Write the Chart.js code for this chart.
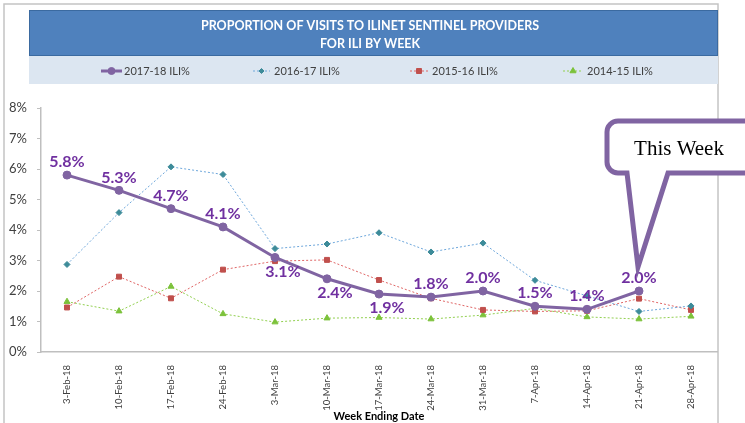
<!DOCTYPE html>
<html>
<head>
<meta charset="utf-8">
<script src="https://cdn.jsdelivr.net/npm/chart.js@4.4.1/dist/chart.umd.min.js"></script>
<style>
  html, body { margin: 0; padding: 0; background: #fff; }
  #wrap { width: 745px; height: 423px; position: relative; }
</style>
</head>
<body>
<div id="wrap"><canvas id="iliChart" width="745" height="423"></canvas></div>
<script>
const weeks = ['3-Feb-18', '10-Feb-18', '17-Feb-18', '24-Feb-18', '3-Mar-18', '10-Mar-18',
  '17-Mar-18', '24-Mar-18', '31-Mar-18', '7-Apr-18', '14-Apr-18', '21-Apr-18', '28-Apr-18'];
const ili1718 = [5.8, 5.3, 4.7, 4.1, 3.1, 2.4, 1.9, 1.8, 2.0, 1.5, 1.4, 2.0, null];
const ili1617 = [2.87, 4.57, 6.07, 5.82, 3.39, 3.54, 3.91, 3.28, 3.57, 2.35, 1.84, 1.33, 1.51];
const ili1516 = [1.46, 2.47, 1.76, 2.70, 2.98, 3.02, 2.36, 1.76, 1.38, 1.33, 1.35, 1.75, 1.38];
const ili1415 = [1.65, 1.34, 2.15, 1.25, 0.98, 1.11, 1.13, 1.08, 1.21, 1.43, 1.15, 1.08, 1.17];
// where each 2017-18 value label sits relative to its point
const labelSide = ['above', 'above', 'above', 'above', 'below', 'below', 'below',
  'above', 'above', 'above', 'above', 'above'];
const yTicks = [0, 1, 2, 3, 4, 5, 6, 7, 8];
const thisWeekIndex = 11;

const FONT = 'Lato, "Open Sans", sans-serif';

// legend marker sizes are a bit smaller than the ones on the lines
const legendRadius = [3.5, 2.5, 3.5, 3.5];

const frameAndHeader = {
  id: 'frameAndHeader',
  beforeDraw(chart) {
    const c = chart.ctx;
    c.save();
    c.fillStyle = '#fff';
    c.fillRect(0, 0, chart.width, chart.height);

    // outer frame
    c.strokeStyle = '#c4c4c4';
    c.lineWidth = 1.5;
    c.strokeRect(4, 4, 714, 430);

    // title box
    c.fillStyle = '#4f81bd';
    c.fillRect(29, 10, 689, 46);
    c.strokeStyle = '#3b6aa0';
    c.lineWidth = 1;
    c.strokeRect(29.5, 10.5, 688, 45);
    c.fillStyle = '#fff';
    c.font = 'bold 12.5px ' + FONT;
    c.textAlign = 'center';
    c.textBaseline = 'middle';
    c.fillText('PROPORTION OF VISITS TO ILINET SENTINEL PROVIDERS', 370, 26);
    c.fillText('FOR ILI BY WEEK', 370, 44);

    // legend band
    c.fillStyle = '#dce6f1';
    c.fillRect(29, 56, 689, 28);

    const ds = chart.data.datasets;
    const spots = [
      { x0: 101, x1: 122, tx: 124 },
      { x0: 253, x1: 270, tx: 274 },
      { x0: 410, x1: 428, tx: 432 },
      { x0: 563, x1: 583, tx: 587 }
    ];
    const ly = 71;
    spots.forEach((s, i) => {
      const d = ds[i];
      c.save();
      c.strokeStyle = d.borderColor;
      c.lineWidth = d.borderWidth;
      c.setLineDash(d.borderDash || []);
      c.beginPath();
      c.moveTo(s.x0, ly);
      c.lineTo(s.x1, ly);
      c.stroke();
      c.restore();

      c.save();
      c.fillStyle = d.pointBackgroundColor;
      c.strokeStyle = d.pointBorderColor;
      c.lineWidth = 1;
      Chart.helpers.drawPoint(c, {
        pointStyle: d.pointStyle,
        radius: legendRadius[i],
        rotation: 0,
        borderWidth: 1
      }, (s.x0 + s.x1) / 2, ly);
      c.restore();

      c.fillStyle = '#404040';
      c.font = '11px ' + FONT;
      c.textAlign = 'left';
      c.textBaseline = 'middle';
      c.fillText(d.label, s.tx, ly + 0.5);
    });
    c.restore();
  }
};

const valueLabels = {
  id: 'valueLabels',
  afterDatasetsDraw(chart) {
    const c = chart.ctx;
    const meta = chart.getDatasetMeta(0);
    c.save();
    c.font = 'bold 16px ' + FONT;
    c.fillStyle = '#7030a0';
    c.textAlign = 'center';
    c.textBaseline = 'middle';
    meta.data.forEach((pt, i) => {
      const v = ili1718[i];
      if (v == null) return;
      const below = labelSide[i] === 'below';
      c.fillText(v.toFixed(1) + '%', pt.x + (below ? 8 : 0), pt.y + (below ? 14 : -13));
    });
    c.restore();
  }
};

const thisWeekCallout = {
  id: 'thisWeekCallout',
  afterDraw(chart) {
    const pt = chart.getDatasetMeta(0).data[thisWeekIndex];
    const c = chart.ctx;
    const tipX = pt.x - 1, tipY = pt.y - 24;
    const left = 607, top = 121, right = 770, bottom = 173, r = 11;
    const baseL = 627, baseR = 668;
    c.save();
    c.beginPath();
    c.moveTo(left + r, top);
    c.lineTo(right, top);
    c.lineTo(right, bottom);
    c.lineTo(baseR, bottom);
    c.lineTo(tipX, tipY);
    c.lineTo(baseL, bottom);
    c.lineTo(left + r, bottom);
    c.arcTo(left, bottom, left, bottom - r, r);
    c.lineTo(left, top + r);
    c.arcTo(left, top, left + r, top, r);
    c.closePath();
    c.fillStyle = '#fff';
    c.fill();
    c.lineWidth = 5;
    c.lineJoin = 'miter';
    c.strokeStyle = '#8064a2';
    c.stroke();
    c.fillStyle = '#000';
    c.font = '21px "Liberation Serif", "DejaVu Serif", serif';
    c.textAlign = 'center';
    c.textBaseline = 'middle';
    c.fillText('This Week', 679, 149);
    c.restore();
  }
};

new Chart(document.getElementById('iliChart'), {
  type: 'line',
  data: {
    labels: weeks,
    datasets: [
      {
        label: '2017-18 ILI%',
        data: ili1718,
        borderColor: '#8064a2',
        borderWidth: 3,
        pointStyle: 'circle',
        pointRadius: 4,
        pointBorderWidth: 1,
        pointBackgroundColor: '#8064a2',
        pointBorderColor: '#8064a2',
        order: 0
      },
      {
        label: '2016-17 ILI%',
        data: ili1617,
        borderColor: '#6fa8dc',
        borderWidth: 1,
        borderDash: [2, 2],
        pointStyle: 'rectRot',
        pointRadius: 3,
        pointBorderWidth: 1,
        pointBackgroundColor: '#3d8b99',
        pointBorderColor: '#3d8b99',
        order: 1
      },
      {
        label: '2015-16 ILI%',
        data: ili1516,
        borderColor: '#e06666',
        borderWidth: 1,
        borderDash: [2, 2],
        pointStyle: 'rect',
        pointRadius: 3.5,
        pointBorderWidth: 1,
        pointBackgroundColor: '#c0504d',
        pointBorderColor: '#c0504d',
        order: 2
      },
      {
        label: '2014-15 ILI%',
        data: ili1415,
        borderColor: '#92d050',
        borderWidth: 1,
        borderDash: [2, 2],
        pointStyle: 'triangle',
        pointRadius: 3.5,
        pointBorderWidth: 1,
        pointBackgroundColor: '#7cc23b',
        pointBorderColor: '#7cc23b',
        order: 3
      }
    ]
  },
  options: {
    responsive: false,
    animation: false,
    tension: 0,
    layout: { padding: { top: 108, right: 28, left: 0, bottom: 0 } },
    plugins: {
      legend: { display: false },
      title: { display: false },
      tooltip: { enabled: false }
    },
    scales: {
      x: {
        offset: true,
        afterFit: (s) => { s.height = 71; },
        grid: { display: false },
        border: { display: true, color: '#bfbfbf', width: 1.5 },
        ticks: {
          minRotation: 90,
          maxRotation: 90,
          autoSkip: false,
          padding: 5,
          color: '#404040',
          font: { family: FONT, size: 9.5 }
        },
        title: {
          display: true,
          text: 'Week Ending Date',
          color: '#000',
          font: { family: FONT, size: 11, weight: 'bold' },
          padding: { top: 0, bottom: 0 }
        }
      },
      y: {
        min: 0,
        max: 8,
        afterFit: (s) => { s.width = 41; },
        afterBuildTicks: (s) => { s.ticks = yTicks.map(v => ({ value: v })); },
        grid: { drawOnChartArea: false, drawTicks: true, tickLength: 4, color: '#bfbfbf' },
        border: { display: true, color: '#bfbfbf', width: 1.5 },
        ticks: {
          padding: 10,
          color: '#404040',
          font: { family: FONT, size: 13 },
          callback: (v) => v + '%'
        }
      }
    }
  },
  plugins: [frameAndHeader, valueLabels, thisWeekCallout]
});
</script>
</body>
</html>
